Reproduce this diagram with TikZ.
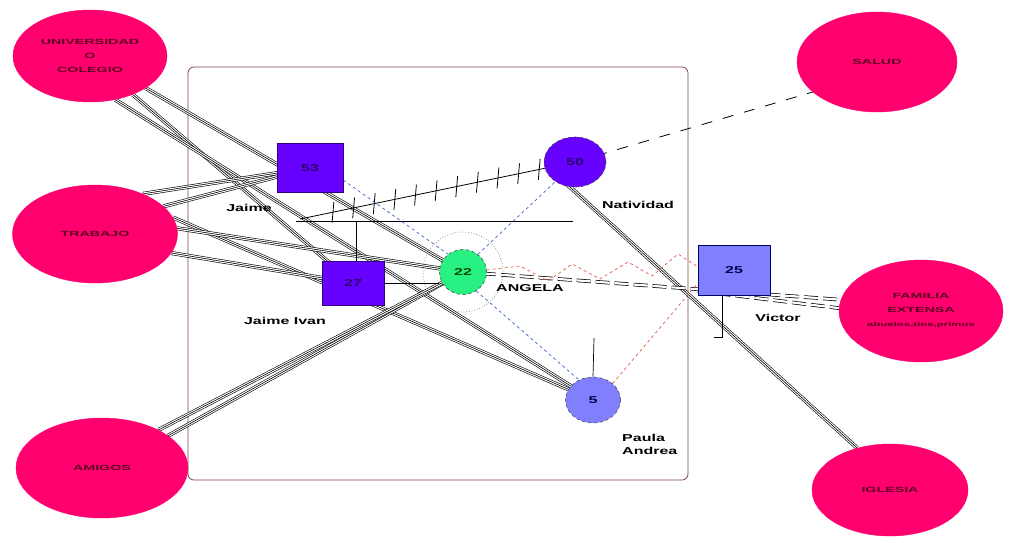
\documentclass[tikz,border=0pt]{standalone}
\usepackage{fontspec}
\setmainfont{Liberation Sans}
\newfontfamily\wide{Liberation Sans}[FakeStretch=1.6]
\newfontfamily\wider{Liberation Sans}[FakeStretch=1.9]
\usetikzlibrary{shapes.geometric,decorations.markings}
\pgfdeclarelayer{bg}
\pgfsetlayers{bg,main}
\definecolor{mag}{RGB}{255,0,110}
\definecolor{etxt}{RGB}{90,0,35}
\definecolor{purp}{RGB}{102,0,255}
\definecolor{peri}{RGB}{128,128,255}
\definecolor{grn}{RGB}{40,240,130}
\definecolor{framec}{RGB}{128,64,80}
\definecolor{bluedash}{RGB}{60,100,200}
\definecolor{reddash}{RGB}{225,90,80}
\tikzset{
  ell/.style={ellipse, fill=mag, draw=mag, inner sep=0pt, align=center, text=etxt,
    font=\wider\bfseries\fontsize{7.5}{14}\selectfont},
  box/.style={rectangle, draw=black!50!purp, line width=0.5pt, inner sep=0pt,
    font=\wide\bfseries\fontsize{10}{10}\selectfont},
  circ/.style={ellipse, draw=black!70, dashed, line width=0.6pt, inner sep=0pt,
    font=\wide\bfseries\fontsize{10}{10}\selectfont},
  lbl/.style={font=\wide\bfseries\fontsize{10}{13}\selectfont, inner sep=0pt, align=left},
  tri/.style={line width=0.6pt, preaction={draw=black, line width=4pt},
    preaction={draw=white, line width=2.8pt}},
  dbl/.style={double=white, double distance=2.2pt, line width=0.7pt, dash pattern=on 14pt off 5pt},
  bdash/.style={draw=bluedash, line width=0.7pt, dash pattern=on 3pt off 3pt},
  rdash/.style={draw=reddash, line width=0.7pt, dash pattern=on 3pt off 3pt},
  hatched/.style={line width=0.8pt, postaction={decorate, decoration={markings,
    mark=between positions 0.12 and 0.92 step 0.075 with {\draw[line width=0.8pt] (-3pt,-10pt) -- (3pt,10pt);}}}}
}
\begin{document}
\begin{tikzpicture}[x=1pt, y=-1pt]
\useasboundingbox (0,0) rectangle (1016,542);
\begin{pgfonlayer}{bg}
\fill[white] (0,0) rectangle (1016,542);
\draw[framec, line width=0.8pt, rounded corners=6pt] (188,67) rectangle (688,480);
\end{pgfonlayer}

% outer ellipses
\node[ell, minimum width=154pt, minimum height=92pt] (univ) at (90,56) {UNIVERSIDAD\\O\\COLEGIO};
\node[ell, minimum width=165pt, minimum height=98pt] (trab) at (95,234) {TRABAJO};
\node[ell, minimum width=172pt, minimum height=100pt] (amig) at (102,468) {AMIGOS};
\node[ell, minimum width=160pt, minimum height=100pt] (salud) at (877,62) {SALUD};
\node[ell, minimum width=164pt, minimum height=102pt] (fam) at (921,311) {FAMILIA\\EXTENSA\\{\fontsize{6}{8}\selectfont abuelos,tios,primos}};
\node[ell, minimum width=156pt, minimum height=92pt] (igl) at (890,490) {IGLESIA};

% family members
\node[box, fill=purp, minimum width=66pt, minimum height=49pt, text=black!60!purp] (b53) at (310,168) {53};
\node[box, fill=purp, minimum width=62pt, minimum height=44pt, text=black!60!purp] (b27) at (353,283) {27};
\node[box, fill=peri, draw=black!60!blue, minimum width=72pt, minimum height=50pt, text=black!70!blue] (b25) at (734,270) {25};
\node[circ, fill=grn, minimum width=47pt, minimum height=45pt, text=black!70!green] (c22) at (463,272) {22};
\node[circ, fill=purp, minimum width=62pt, minimum height=50pt, text=black!60!purp] (c50) at (575,162) {50};
\node[circ, fill=peri, minimum width=55pt, minimum height=46pt, text=black!70!blue] (c5) at (593,400) {5};

% labels
\node[lbl] (ljaime) at (249,208) {Jaime};
\node[lbl] (livan) at (285,321) {Jaime Ivan};
\node[lbl] (lnat) at (638,205) {Natividad};
\node[lbl] (lang) at (530,288) {ANGELA};
\node[lbl] (lvic) at (778,318) {Victor};
\node[lbl, anchor=west] (lpau) at (622,444) {Paula\\Andrea};

% auxiliary coordinates
\coordinate (h1) at (296,221);
\coordinate (h2) at (573,221);
\coordinate (v1) at (356,221);
\coordinate (hs) at (300,219);
\coordinate (p5) at (594,338);
\coordinate (q1) at (722,337);
\coordinate (q2) at (714,337);
\coordinate (s50) at (560,178);

\begin{pgfonlayer}{bg}
\draw[gray, dotted, line width=0.7pt] (c22.center) circle (40pt);
% triple connectors
\draw[tri] (univ.-30) -- (c22.center);
\draw[tri] (univ.-42) -- (b27.center);
\draw[tri] (univ.-60) -- (c5.center);
\draw[tri] (trab.40) -- (b53.center);
\draw[tri] (trab.22) -- (b53.center);
\draw[tri] (trab.12) -- (c5.center);
\draw[tri] (trab.4) -- (c22.center);
\draw[tri] (trab.-14) -- (b27.center);
\draw[tri] (amig.26) -- (c22.center);
\draw[tri] (amig.34) -- (c22.center);
\draw[tri] (s50) -- (igl.128);

% dashed double to family
\draw[dbl] (c22.center) -- (fam.172);
\draw[dbl] (b25.-150) -- (fam.178);
% to salud
\draw[line width=0.8pt, dash pattern=on 11pt off 11pt] (c50.center) -- (salud.205);

% conflict line
\draw[hatched] (hs) -- (c50.center);

% plain lines
\draw[line width=0.7pt] (h1) -- (h2);
\draw[line width=0.7pt] (v1) -- (v1 |- b27.north);
\draw[line width=0.7pt] (b27.east) -- (b27.east -| c22.west);
\draw[line width=0.7pt] (p5) -- (c5.north);
\draw[line width=0.7pt] (b25.south -| q1) -- (q1) -- (q2);

% blue dashed
\draw[bdash] (b53.-20) -- (c22.130);
\draw[bdash] (c22.50) -- (c50.225);
\draw[bdash] (c22.-55) -- (c5.125);
% red dashed
\draw[rdash] (c22.5) -- (520,266) -- (548,281) -- (572,264) -- (600,279) -- (628,262) -- (652,276) -- (678,254) -- (b25.175);
\draw[rdash] (c5.40) -- (b25.-160);
\end{pgfonlayer}
\end{tikzpicture}
\end{document}
